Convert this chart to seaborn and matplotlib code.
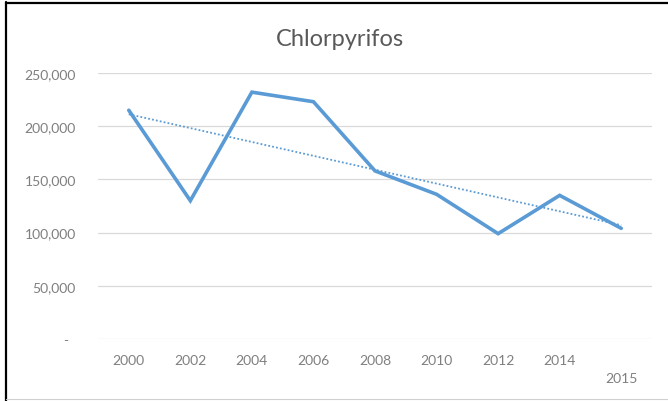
import numpy as np
import pandas as pd
import matplotlib
matplotlib.use("Agg")
import matplotlib.pyplot as plt
from matplotlib.lines import Line2D
import seaborn as sns

# Chlorpyrifos use by survey year
years = ["2000", "2002", "2004", "2006", "2008", "2010", "2012", "2014", "2015"]
amounts = [215000, 130000, 232000, 223000, 158000, 136000, 99000, 135000, 104000]
y_ticks = [0, 50000, 100000, 150000, 200000, 250000]
y_tick_labels = ["-  ", "50,000", "100,000", "150,000", "200,000", "250,000"]

sns.set_theme(style="white")
plt.rcParams["font.family"] = ["Lato", "DejaVu Sans"]

df = pd.DataFrame({"pos": np.arange(len(years)), "year": years, "amount": amounts})

fig = plt.figure(figsize=(6.68, 4.02), dpi=100, facecolor="white")
ax = fig.add_axes([98 / 668, 1 - 340 / 402, (652 - 98) / 668, (340 - 74) / 402])

blue = "#5B9BD5"
sns.lineplot(data=df, x="pos", y="amount", ax=ax, color=blue, linewidth=2.6,
             solid_joinstyle="miter", zorder=3)

# linear trend line
coef = np.polyfit(df["pos"], df["amount"], 1)
trend = np.polyval(coef, df["pos"])
ax.plot(df["pos"], trend, color=blue, linewidth=1.3, linestyle=(0, (1, 1.2)), zorder=2)

ax.set_xlim(-0.5, len(years) - 0.5)
ax.set_ylim(0, 250000)
ax.set_yticks(y_ticks)
ax.set_yticklabels(y_tick_labels)
ax.set_xticks(df["pos"])
ax.set_xticklabels(years)
ax.set_xlabel("")
ax.set_ylabel("")

ax.grid(axis="y", color="#d9d9d9", linewidth=0.9)
ax.set_axisbelow(True)
for s in ax.spines.values():
    s.set_visible(False)

ax.tick_params(axis="both", length=0, labelsize=10, labelcolor="#7f7f7f")
ax.tick_params(axis="y", pad=16)
ax.tick_params(axis="x", pad=11)
# last category label sits on a lower row
ax.xaxis.get_major_ticks()[-1].set_pad(24)

fig.text(340 / 668, 1 - 39 / 402, "Chlorpyrifos", fontsize=17, color="#595959",
         ha="center", va="center")

# chart frame
fig.add_artist(Line2D([5.5 / 668, 5.5 / 668], [0, 1 - 3 / 402], color="black", linewidth=1.6))
fig.add_artist(Line2D([5.5 / 668, 1], [1 - 3.5 / 402, 1 - 3.5 / 402], color="black", linewidth=1.6))
fig.add_artist(Line2D([5.5 / 668, 1], [1 - 399.5 / 402, 1 - 399.5 / 402], color="#d0d0d0", linewidth=0.8))

fig.savefig("out.png", dpi=100, facecolor="white")
